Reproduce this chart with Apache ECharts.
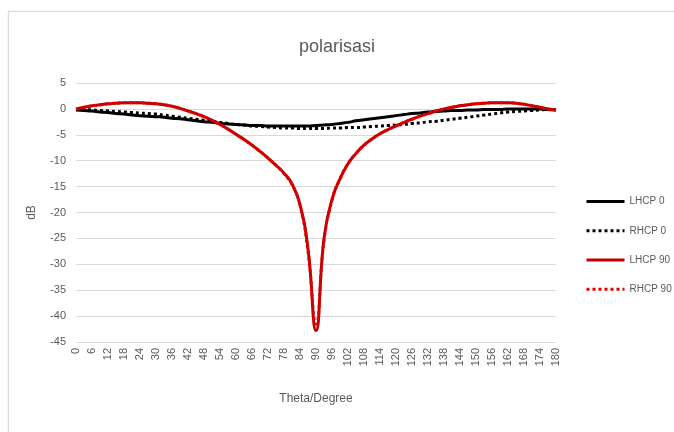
<!DOCTYPE html>
<html>
<head>
<meta charset="utf-8">
<script src="https://cdn.jsdelivr.net/npm/echarts@6/dist/echarts.min.js"></script>
<style>
    html, body { margin: 0; padding: 0; background: #fff; }
    #frame {
        position: absolute; left: 8px; top: 11px; width: 680px; height: 440px;
        border: 1px solid #d9d9d9; box-shadow: 0 0 2px #e6e6e6;
    }
    #chart { position: absolute; left: 0; top: 0; width: 674px; height: 432px; }
</style>
</head>
<body>
<div id="frame"></div>
<div id="chart"></div>
<script>
// theta in degrees, step 3
const theta = [];
for (let t = 0; t <= 180; t += 3) theta.push(String(t));

const lhcp0 = [-0.2, -0.3, -0.4, -0.6, -0.7, -0.9, -1.0, -1.2, -1.3, -1.4, -1.5, -1.6, -1.8, -1.9, -2.1, -2.3,
    -2.5, -2.6, -2.8, -2.9, -3.0, -3.1, -3.2, -3.2, -3.3, -3.3, -3.3, -3.3, -3.3, -3.3, -3.2,
    -3.1, -3.0, -2.8, -2.6, -2.3, -2.1, -1.9, -1.7, -1.5, -1.3, -1.1, -0.9, -0.8, -0.6, -0.5,
    -0.4, -0.3, -0.3, -0.2, -0.2, -0.1, -0.1, -0.1, 0, 0, 0, 0, 0, -0.1, -0.2];

const rhcp0 = [-0.1, -0.1, -0.2, -0.3, -0.4, -0.5, -0.6, -0.7, -0.8, -0.9, -1.0, -1.2, -1.4, -1.6, -1.8, -2.0,
    -2.2, -2.4, -2.6, -2.8, -3.0, -3.1, -3.3, -3.4, -3.5, -3.6, -3.7, -3.7, -3.8, -3.8, -3.8,
    -3.8, -3.7, -3.7, -3.6, -3.6, -3.5, -3.4, -3.3, -3.2, -3.1, -3.0, -2.8, -2.7, -2.5, -2.4,
    -2.2, -2.0, -1.8, -1.6, -1.4, -1.2, -1.0, -0.8, -0.6, -0.5, -0.4, -0.3, -0.2, -0.1, -0.1];

const lhcp90 = [0, 0.3, 0.6, 0.8, 1.0, 1.1, 1.2, 1.2, 1.2, 1.1, 1.0, 0.8, 0.5, 0.1, -0.4, -0.9,
    -1.5, -2.2, -3.0, -3.9, -4.9, -5.9, -7.0, -8.2, -9.5, -10.9, -12.4, -14.5, -18.5, -27, -42.8,
    -25, -17.5, -13.5, -10.6, -8.6, -7.0, -5.8, -4.8, -4.0, -3.3, -2.6, -2.0, -1.4, -0.9, -0.4,
    0, 0.3, 0.6, 0.8, 1.0, 1.1, 1.2, 1.2, 1.2, 1.1, 0.9, 0.6, 0.3, 0, -0.2];

const rhcp90 = [0, 0.3, 0.6, 0.8, 1.0, 1.1, 1.2, 1.2, 1.2, 1.1, 1.0, 0.8, 0.5, 0.1, -0.4, -0.9,
    -1.5, -2.2, -3.0, -3.9, -4.9, -5.9, -7.0, -8.2, -9.5, -10.9, -12.5, -14.6, -18.6, -27.5, -41.5,
    -25.5, -17.6, -13.5, -10.6, -8.6, -7.0, -5.8, -4.8, -4.0, -3.3, -2.6, -2.0, -1.4, -0.9, -0.4,
    0, 0.3, 0.6, 0.8, 1.0, 1.1, 1.2, 1.2, 1.2, 1.1, 0.9, 0.6, 0.3, 0, -0.2];

const textColor = '#595959';
const fontFamily = '"Liberation Sans Narrow", "Liberation Sans", sans-serif';

function lineSeries(name, data, color, type) {
    return {
        name: name,
        type: 'line',
        data: data,
        symbol: 'none',
        smooth: true,
        lineStyle: { color: color, width: 3, type: type },
        itemStyle: { color: color }
    };
}

const chart = echarts.init(document.getElementById('chart'));
chart.setOption({
    animation: false,
    textStyle: { fontFamily: fontFamily, color: textColor },
    title: {
        text: 'polarisasi',
        left: 'center',
        top: 33,
        textStyle: { fontSize: 18, fontWeight: 'normal', color: textColor, fontFamily: fontFamily }
    },
    grid: { left: 76, right: 118, top: 83, bottom: 90, containLabel: false },
    legend: {
        orient: 'vertical',
        left: 580,
        top: 191,
        itemWidth: 38,
        itemHeight: 14,
        itemGap: 18,
        itemStyle: { opacity: 0 },
        lineStyle: { width: 3 },
        textStyle: { fontSize: 10, color: textColor, fontFamily: fontFamily },
        data: ['LHCP 0', 'RHCP 0', 'LHCP 90', 'RHCP 90']
    },
    xAxis: {
        type: 'category',
        data: theta,
        boundaryGap: false,
        name: 'Theta/Degree',
        nameLocation: 'middle',
        nameGap: 51,
        nameTextStyle: { fontSize: 12, color: textColor },
        axisLine: { lineStyle: { color: '#d9d9d9' } },
        axisTick: { show: false },
        axisLabel: { interval: 1, rotate: 90, fontSize: 11, color: textColor, margin: 6 }
    },
    yAxis: {
        type: 'value',
        min: -45,
        max: 5,
        interval: 5,
        name: 'dB',
        nameLocation: 'middle',
        nameGap: 38,
        nameTextStyle: { fontSize: 12, color: textColor },
        axisLine: { show: false },
        axisTick: { show: false },
        axisLabel: { fontSize: 11, color: textColor, margin: 10 },
        splitLine: { lineStyle: { color: '#d9d9d9' } }
    },
    series: [
        lineSeries('LHCP 0', lhcp0, '#000000', 'solid'),
        lineSeries('RHCP 0', rhcp0, '#000000', 'dotted'),
        lineSeries('LHCP 90', lhcp90, '#c00000', 'solid'),
        lineSeries('RHCP 90', rhcp90, '#e00000', 'dotted')
    ]
});
</script>
</body>
</html>
